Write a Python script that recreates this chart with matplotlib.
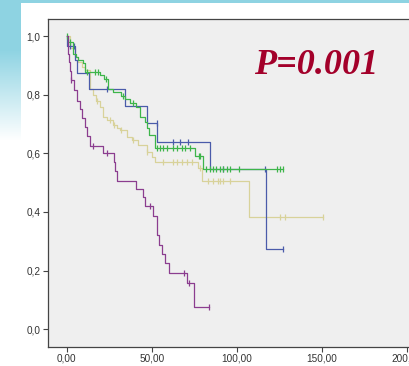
import matplotlib
matplotlib.use("Agg")
import matplotlib.pyplot as plt
import numpy as np

# Kaplan-Meier steps (time, survival) + censor times
pur_t = [0, 0.5, 1.0, 1.5, 2.0, 2.5, 4.0, 6.0, 7.8, 9.0, 10.5, 11.8, 13.5, 21.5, 28.0, 28.6,
         29.4, 41.0, 45.0, 46.0, 51.0, 53.3, 54.5, 56.0, 58.0, 60.0, 70.6, 74.9]
pur_s = [1.0, 0.97, 0.94, 0.91, 0.88, 0.85, 0.815, 0.78, 0.75, 0.72, 0.69, 0.66, 0.626, 0.60,
         0.57, 0.54, 0.505, 0.478, 0.45, 0.42, 0.385, 0.32, 0.287, 0.258, 0.224, 0.193, 0.156, 0.076]
pur_cens = [2.8, 15.6, 23.8, 49.0, 69.2, 72.0, 83.9]

blu_t = [0, 0.3, 4.9, 5.9, 13.3, 34.5, 47.0, 53.3, 84.3, 117.0]
blu_s = [1.0, 0.967, 0.918, 0.873, 0.818, 0.76, 0.704, 0.64, 0.546, 0.274]
blu_cens = [1.9, 4.5, 23.5, 53.0, 62.7, 66.7, 71.5, 92.0, 116.5, 127.4]

grn_t = [0, 1.0, 3.9, 5.3, 6.8, 9.8, 10.8, 19.6, 22.0, 24.5, 27.4, 31.8, 34.3, 37.2, 40.5,
         43.1, 46.0, 47.0, 48.3, 52.0, 75.5, 80.2]
grn_s = [1.0, 0.98, 0.94, 0.93, 0.918, 0.907, 0.877, 0.867, 0.855, 0.821, 0.81, 0.795, 0.784,
         0.77, 0.759, 0.725, 0.708, 0.685, 0.662, 0.617, 0.59, 0.546]
grn_cens = [0.3, 2.0, 12.1, 16.6, 18.2, 23.0, 33.0, 39.2, 53.0, 55.0, 56.9, 58.8, 62.7, 64.7,
            67.6, 69.6, 72.5, 78.0, 78.5, 82.0, 84.0, 86.0, 88.0, 90.0, 92.0, 94.0, 96.0,
            101.5, 123.5, 125.5, 127.4]

tan_t = [0, 2.0, 4.9, 6.8, 8.8, 10.8, 13.7, 15.6, 17.0, 19.6, 21.5, 23.5, 27.4, 29.4, 31.4,
         35.3, 38.2, 42.1, 47.0, 50.0, 52.0, 77.4, 79.4, 107.4]
tan_s = [1.0, 0.958, 0.93, 0.912, 0.895, 0.884, 0.82, 0.799, 0.78, 0.759, 0.725, 0.713, 0.696,
         0.685, 0.68, 0.656, 0.645, 0.628, 0.605, 0.588, 0.571, 0.549, 0.506, 0.382]
tan_cens = [18.0, 25.5, 27.8, 32.0, 39.2, 47.5, 56.9, 62.7, 64.7, 67.6, 70.6, 73.5, 78.4,
            83.3, 86.3, 89.2, 90.2, 92.0, 96.0, 125.5, 128.4, 150.9]

x_ticks = [0, 50, 100, 150, 200]
x_labels = ["0,00", "50,00", "100,00", "150,00", "200,00"]
y_ticks = [0.0, 0.2, 0.4, 0.6, 0.8, 1.0]
y_labels = ["0,0", "0,2", "0,4", "0,6", "0,8", "1,0"]
p_label = "P=0.001"


def draw_group(ax, times, surv, cens, color):
    t = list(times) + [max(cens[-1], times[-1])]
    s = list(surv) + [surv[-1]]
    ax.step(t, s, where="post", color=color, lw=0.9, zorder=3)
    idx = np.searchsorted(times, cens, side="right") - 1
    ax.plot(cens, np.array(surv)[idx], ls="none", marker="|", ms=5, mew=0.9,
            color=color, zorder=3)


fig = plt.figure(figsize=(4.10, 3.66), dpi=100)

# slide background: cyan strip on top and fading strip on the left
bg = fig.add_axes([0, 0, 1, 1], zorder=-10)
bg.axis("off")
h, w = 366, 410
yy, xx = np.mgrid[0:h, 0:w]
alpha = np.zeros((h, w))
alpha[:3, :] = 1.0
alpha = np.maximum(alpha, (xx < 21) * np.clip(1 - (yy - 50) / 90, 0, 1))
cyan = np.array([0.56, 0.83, 0.89])
img = np.ones((h, w, 3)) * (1 - alpha[..., None]) + cyan * alpha[..., None]
bg.imshow(img, extent=[0, 1, 0, 1], aspect="auto")

ax = fig.add_axes([0.1163, 0.0519, 0.937, 0.896])
ax.set_facecolor("#EFEFEF")

draw_group(ax, tan_t, tan_s, tan_cens, "#D8D29A")
draw_group(ax, blu_t, blu_s, blu_cens, "#4A5BAA")
draw_group(ax, grn_t, grn_s, grn_cens, "#3DB54A")
draw_group(ax, pur_t, pur_s, pur_cens, "#8B3D8F")

ax.set_xlim(-11.2, 214.8)
ax.set_ylim(-0.061, 1.058)
ax.set_xticks(x_ticks)
ax.set_xticklabels(x_labels)
ax.set_yticks(y_ticks)
ax.set_yticklabels(y_labels)
for sp in ax.spines.values():
    sp.set_color("#444444")
    sp.set_linewidth(0.9)
ax.tick_params(length=3.5, width=0.8, color="#444444", labelcolor="#333333",
               labelsize=7.2, pad=1.5)
for lab in ax.get_xticklabels() + ax.get_yticklabels():
    lab.set_family("Liberation Sans")

fig.text(316 / 410, 1 - 66 / 366, p_label, ha="center", va="center",
         family="Liberation Serif", fontsize=26, fontweight="bold", fontstyle="italic",
         color="#A3002A")

fig.savefig("out.png", dpi=100)
